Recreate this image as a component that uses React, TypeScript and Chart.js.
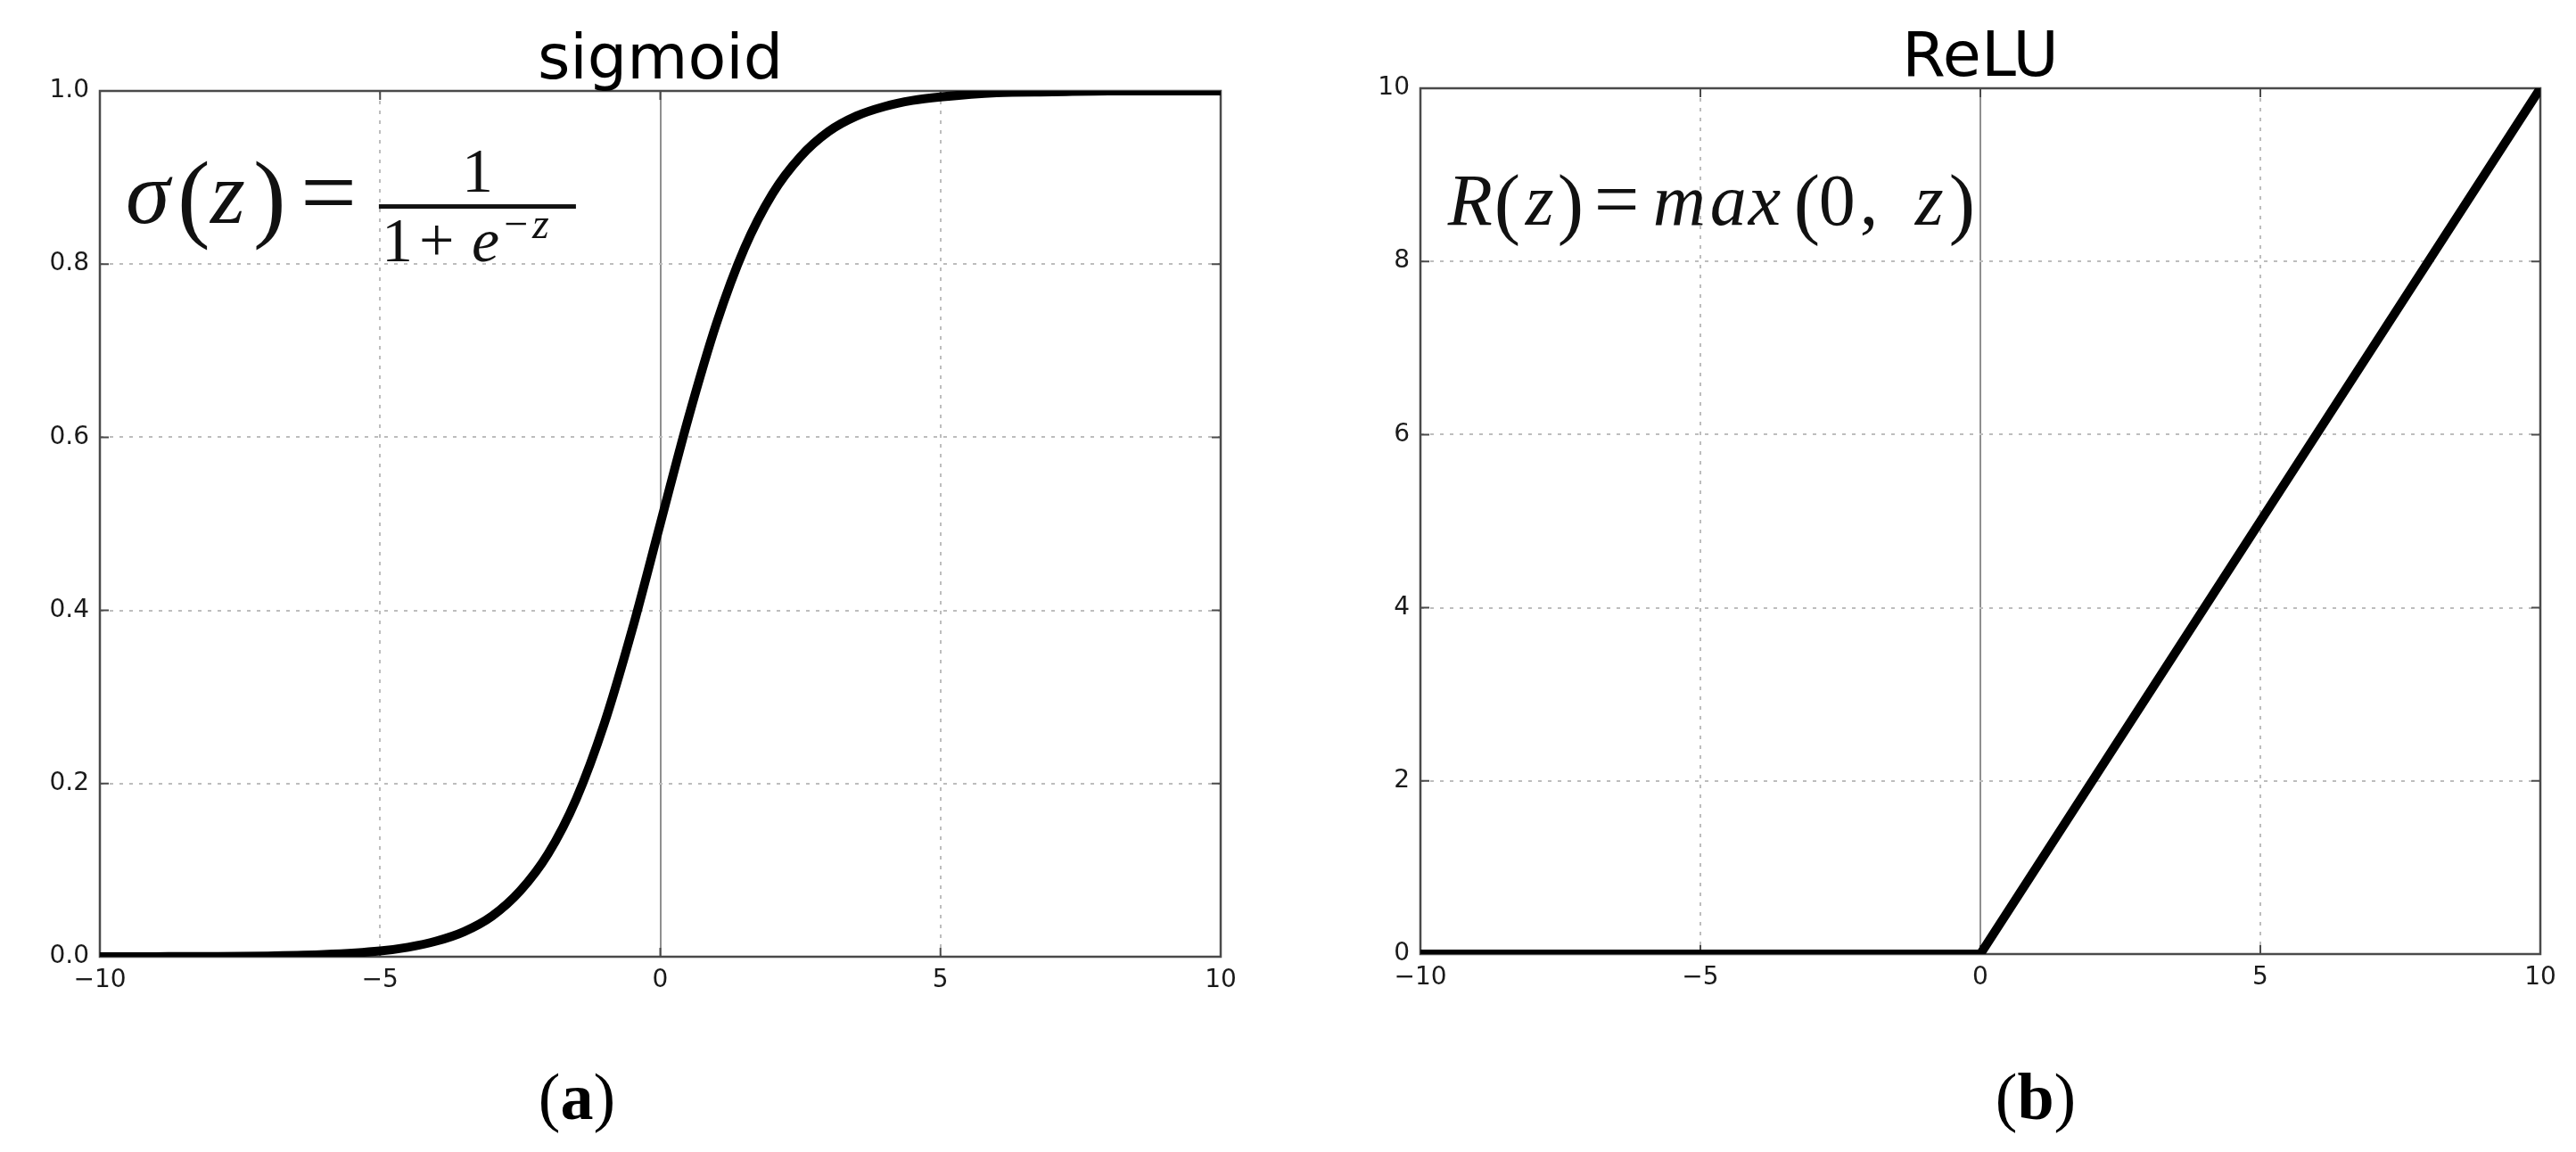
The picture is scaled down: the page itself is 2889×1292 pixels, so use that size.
import React, { useEffect, useRef } from "react";
import { Chart, registerables } from "chart.js";

Chart.register(...registerables);

// ---------- data ----------
const sigmoidZ = [-10, -9, -8, -7, -6, -5, -4.5, -4, -3.5, -3, -2.5, -2, -1.5, -1, -0.5, 0, 0.5, 1, 1.5, 2, 2.5, 3, 3.5, 4, 4.5, 5, 6, 7, 8, 9, 10];
const sigmoidValues = [0.0, 0.0001, 0.0003, 0.0009, 0.0025, 0.0067, 0.011, 0.018, 0.029, 0.047, 0.076, 0.119, 0.182, 0.269, 0.378, 0.5, 0.622, 0.731, 0.818, 0.881, 0.924, 0.953, 0.971, 0.982, 0.989, 0.993, 0.998, 0.999, 1.0, 1.0, 1.0];

const reluZ = [-10, 0, 10];
const reluValues = [0, 0, 10];

const xTicks = [-10, -5, 0, 5, 10];
const sigmoidYTicks = [0, 0.2, 0.4, 0.6, 0.8, 1.0];
const reluYTicks = [0, 2, 4, 6, 8, 10];

const panelTitles = ["sigmoid", "ReLU"];
const panelCaptions = ["a", "b"];

// ---------- layout / style ----------
const W_TOTAL = 2889;
const H_TOTAL = 1292;
const TICK_FONT = { family: "DejaVu Sans", size: 28 };
const CURVE_WIDTH = 10;

type Tok = { t: string; italic: boolean; size: number; dx: number; dy: number };

const sigmoidFormula: { ax: number; ay: number; toks: Tok[]; bar: [number, number, number] } = {
  ax: -9.54,
  ay: 0.848,
  toks: [
    { t: "σ", italic: true, size: 100, dx: 0, dy: 0 },
    { t: "(", italic: false, size: 110, dx: 58, dy: 7 },
    { t: "z", italic: true, size: 100, dx: 95, dy: 0 },
    { t: ")", italic: false, size: 110, dx: 143, dy: 7 },
    { t: "=", italic: false, size: 112, dx: 196, dy: 3 },
    { t: "1", italic: false, size: 70, dx: 377, dy: -35 },
    { t: "1", italic: false, size: 70, dx: 287, dy: 43 },
    { t: "+", italic: false, size: 70, dx: 329, dy: 43 },
    { t: "e", italic: true, size: 70, dx: 388, dy: 43 },
    { t: "−", italic: false, size: 48, dx: 424, dy: 17 },
    { t: "z", italic: true, size: 48, dx: 456, dy: 17 },
  ],
  bar: [284, 505, -18],
};

const reluFormula: { ax: number; ay: number; toks: Tok[]; bar: null } = {
  ax: -9.51,
  ay: 8.42,
  toks: [
    { t: "R", italic: true, size: 82, dx: 0, dy: 0 },
    { t: "(", italic: false, size: 88, dx: 52, dy: 5 },
    { t: "z", italic: true, size: 82, dx: 87, dy: 0 },
    { t: ")", italic: false, size: 88, dx: 123, dy: 5 },
    { t: "=", italic: false, size: 90, dx: 164, dy: 2 },
    { t: "m", italic: true, size: 82, dx: 230, dy: 0 },
    { t: "a", italic: true, size: 82, dx: 294, dy: 0 },
    { t: "x", italic: true, size: 82, dx: 337, dy: 0 },
    { t: "(", italic: false, size: 88, dx: 388, dy: 5 },
    { t: "0", italic: false, size: 82, dx: 416, dy: 0 },
    { t: ",", italic: false, size: 82, dx: 462, dy: 0 },
    { t: "z", italic: true, size: 82, dx: 524, dy: 0 },
    { t: ")", italic: false, size: 88, dx: 562, dy: 5 },
  ],
  bar: null,
};

type PanelCfg = {
  canvasLeft: number;
  width: number;
  areaLeft: number;
  areaRight: number;
  areaTop: number;
  areaBottom: number;
  xs: number[];
  ys: number[];
  yMin: number;
  yMax: number;
  yTicks: number[];
  yFmt: (v: number) => string;
  smooth: boolean;
  title: string;
  caption: string;
  captionX: number;
  formula: { ax: number; ay: number; toks: Tok[]; bar: [number, number, number] | null };
};

const fmtX = (v: number) => (v < 0 ? "\u2212" + Math.abs(v) : String(v));

function makeDecor(cfg: PanelCfg) {
  return {
    id: "decor",
    beforeDatasetsDraw(chart: any) {
      const { ctx, chartArea: a, scales } = chart;
      ctx.save();
      ctx.strokeStyle = "#4a4a4a";
      ctx.lineWidth = 2.5;
      ctx.strokeRect(a.left, a.top, a.right - a.left, a.bottom - a.top);
      ctx.lineWidth = 2;
      ctx.beginPath();
      for (const v of xTicks) {
        const px = scales.x.getPixelForValue(v);
        ctx.moveTo(px, a.bottom);
        ctx.lineTo(px, a.bottom - 10);
        ctx.moveTo(px, a.top);
        ctx.lineTo(px, a.top + 10);
      }
      for (const v of cfg.yTicks) {
        const py = scales.y.getPixelForValue(v);
        ctx.moveTo(a.left, py);
        ctx.lineTo(a.left + 10, py);
        ctx.moveTo(a.right, py);
        ctx.lineTo(a.right - 10, py);
      }
      ctx.stroke();
      ctx.restore();
    },
    afterDraw(chart: any) {
      const { ctx, chartArea: a, scales } = chart;
      ctx.save();
      // title
      ctx.fillStyle = "#000";
      ctx.font = '70px "DejaVu Sans"';
      ctx.textAlign = "center";
      ctx.textBaseline = "alphabetic";
      ctx.fillText(cfg.title, (a.left + a.right) / 2, a.top - 14);

      // formula
      const f = cfg.formula;
      const x0 = scales.x.getPixelForValue(f.ax);
      const y0 = scales.y.getPixelForValue(f.ay);
      ctx.textAlign = "left";
      ctx.fillStyle = "#111";
      for (const tk of f.toks) {
        ctx.font = `${tk.italic ? "italic " : ""}${tk.size}px "Liberation Serif"`;
        ctx.fillText(tk.t, x0 + tk.dx, y0 + tk.dy);
      }
      if (f.bar) {
        ctx.fillRect(x0 + f.bar[0], y0 + f.bar[2] - 2.5, f.bar[1] - f.bar[0], 5);
      }

      // caption "(a)" / "(b)"
      const reg = '74px "Liberation Serif"';
      const bold = 'bold 74px "Liberation Serif"';
      ctx.fillStyle = "#000";
      ctx.font = reg;
      const wp = ctx.measureText("(").width;
      const wp2 = ctx.measureText(")").width;
      ctx.font = bold;
      const wl = ctx.measureText(cfg.caption).width;
      let cx = cfg.captionX - (wp + wl + wp2) / 2;
      const base = 1255;
      ctx.font = reg;
      ctx.fillText("(", cx, base);
      cx += wp;
      ctx.font = bold;
      ctx.fillText(cfg.caption, cx, base);
      cx += wl;
      ctx.font = reg;
      ctx.fillText(")", cx, base);
      ctx.restore();
    },
  };
}

function Panel({ cfg }: { cfg: PanelCfg }) {
  const ref = useRef<HTMLCanvasElement | null>(null);
  useEffect(() => {
    if (!ref.current) return;
    const gridColor = (c: any) => (c.tick && c.tick.value === 0 ? "#8f8f8f" : "#bdbdbd");
    const gridDash = (c: any) => (c.tick && c.tick.value === 0 ? [] : [4, 7]);
    const chart = new Chart(ref.current, {
      type: "line",
      data: {
        datasets: [
          {
            data: cfg.xs.map((x, i) => ({ x, y: cfg.ys[i] })),
            borderColor: "#000",
            borderWidth: CURVE_WIDTH,
            pointRadius: 0,
            fill: false,
            tension: 0,
            cubicInterpolationMode: cfg.smooth ? "monotone" : "default",
            borderJoinStyle: "miter",
          } as any,
        ],
      },
      options: {
        responsive: false,
        animation: false,
        devicePixelRatio: 1,
        layout: {
          padding: {
            left: 0,
            top: cfg.areaTop,
            right: cfg.width - (cfg.areaRight - cfg.canvasLeft),
            bottom: 0,
          },
        },
        plugins: {
          legend: { display: false },
          tooltip: { enabled: false },
          title: { display: false },
        },
        scales: {
          x: {
            type: "linear",
            min: -10,
            max: 10,
            afterBuildTicks: (s: any) => {
              s.ticks = xTicks.map((v) => ({ value: v }));
            },
            afterFit: (s: any) => {
              s.height = H_TOTAL - cfg.areaBottom;
            },
            border: { display: false, dash: gridDash },
            grid: { color: gridColor, lineWidth: 2, drawTicks: false },
            ticks: {
              padding: 10,
              color: "#1a1a1a",
              font: TICK_FONT,
              maxRotation: 0,
              autoSkip: false,
              callback: (v: any) => fmtX(Number(v)),
            },
          },
          y: {
            type: "linear",
            min: cfg.yMin,
            max: cfg.yMax,
            afterBuildTicks: (s: any) => {
              s.ticks = cfg.yTicks.map((v) => ({ value: v }));
            },
            afterFit: (s: any) => {
              s.width = cfg.areaLeft - cfg.canvasLeft;
            },
            border: { display: false, dash: gridDash },
            grid: { color: gridColor, lineWidth: 2, drawTicks: false },
            ticks: {
              padding: 12,
              color: "#1a1a1a",
              font: TICK_FONT,
              autoSkip: false,
              callback: (v: any) => cfg.yFmt(Number(v)),
            },
          },
        },
      } as any,
      plugins: [makeDecor(cfg)],
    });
    return () => chart.destroy();
  }, [cfg]);
  return (
    <canvas
      ref={ref}
      width={cfg.width}
      height={H_TOTAL}
      style={{ position: "absolute", left: cfg.canvasLeft, top: 0, width: cfg.width, height: H_TOTAL }}
    />
  );
}

const leftCfg: PanelCfg = {
  canvasLeft: 0,
  width: 1480,
  areaLeft: 112,
  areaRight: 1369,
  areaTop: 102,
  areaBottom: 1073,
  xs: sigmoidZ,
  ys: sigmoidValues,
  yMin: 0,
  yMax: 1,
  yTicks: sigmoidYTicks,
  yFmt: (v) => v.toFixed(1),
  smooth: true,
  title: panelTitles[0],
  caption: panelCaptions[0],
  captionX: 647,
  formula: sigmoidFormula,
};

const rightCfg: PanelCfg = {
  canvasLeft: 1480,
  width: W_TOTAL - 1480,
  areaLeft: 1593,
  areaRight: 2849,
  areaTop: 99,
  areaBottom: 1070,
  xs: reluZ,
  ys: reluValues,
  yMin: 0,
  yMax: 10,
  yTicks: reluYTicks,
  yFmt: (v) => String(Math.round(v)),
  smooth: false,
  title: panelTitles[1],
  caption: panelCaptions[1],
  captionX: 2283 - 1480,
  formula: reluFormula,
};

export default function App() {
  return (
    <div
      style={{
        position: "absolute",
        left: 0,
        top: 0,
        width: W_TOTAL,
        height: H_TOTAL,
        background: "#fff",
        overflow: "hidden",
      }}
    >
      <Panel cfg={leftCfg} />
      <Panel cfg={rightCfg} />
    </div>
  );
}
